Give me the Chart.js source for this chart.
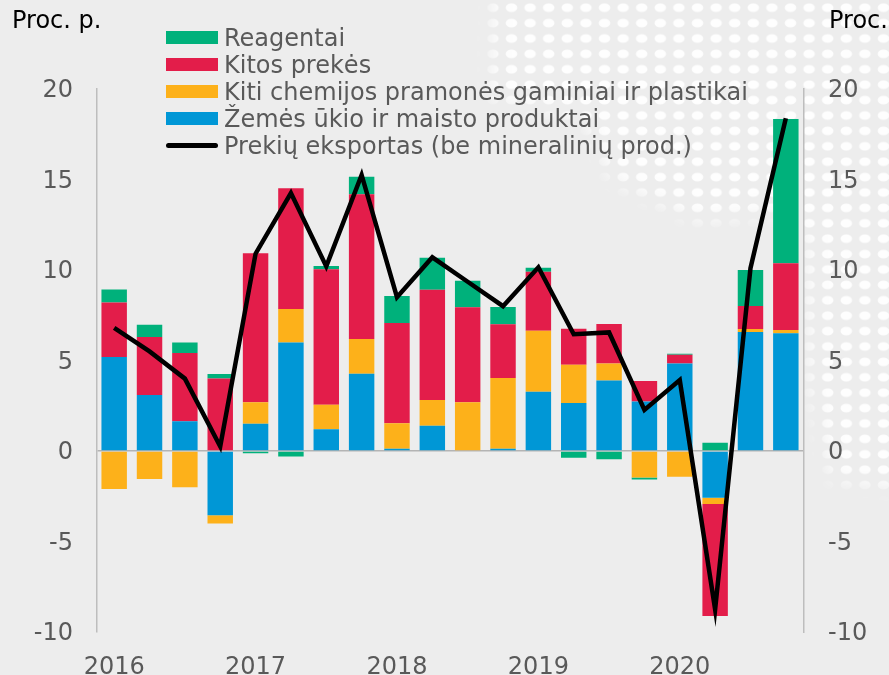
<!DOCTYPE html>
<html lang="lt">
<head>
<meta charset="utf-8">
<title>Prekių eksporto augimo struktūra</title>
<script src="https://cdn.jsdelivr.net/npm/chart.js@4.4.1/dist/chart.umd.min.js"></script>
<style>
    html, body { margin: 0; padding: 0; }
    body {
        width: 889px;
        height: 675px;
        overflow: hidden;
        background: #ededed;
        font-family: 'DejaVu Sans', Verdana, sans-serif;
    }
    .wrap { position: relative; width: 889px; height: 675px; }
    .dots { position: absolute; left: 0; top: 0; }
    canvas { position: absolute; left: 0; top: 0; }
    .axis-title { position: absolute; top: 6px; font-size: 24px; color: #000; white-space: nowrap; }
    .legend { position: absolute; left: 166px; top: 24px; }
    .legend-item {
        display: flex;
        align-items: center;
        height: 27px;
        font-size: 24px;
        color: #595959;
        white-space: nowrap;
    }
    .legend-swatch { width: 52px; height: 13px; margin-right: 6px; flex: none; }
    .legend-swatch.line { height: 5px; border-radius: 3px; }
</style>
</head>
<body>
<div class="wrap">
    <!-- dekoratyvus taškų fonas -->
    <svg class="dots" width="889" height="675">
        <defs>
            <pattern id="dotPattern" width="18.6" height="15.4" patternUnits="userSpaceOnUse">
                <ellipse cx="9.3" cy="7.7" rx="5.8" ry="4.3" fill="#ffffff" fill-opacity="0.9"></ellipse>
            </pattern>
            <filter id="soft" x="-20%" y="-20%" width="140%" height="140%">
                <feGaussianBlur stdDeviation="9"></feGaussianBlur>
            </filter>
            <mask id="dotMask" maskUnits="userSpaceOnUse" x="0" y="0" width="889" height="675">
                <polygon points="492,-20 909,-20 909,490 832,480 810,380 806,235 780,212 700,222 612,180 585,118 490,100"
                         fill="#ffffff" filter="url(#soft)"></polygon>
            </mask>
        </defs>
        <rect x="0" y="0" width="889" height="675" fill="url(#dotPattern)" mask="url(#dotMask)"></rect>
    </svg>
    <canvas id="chart" width="889" height="675"></canvas>
    <div class="axis-title" style="left:12px">Proc. p.</div>
    <div class="axis-title" style="left:829px">Proc.</div>
    <div class="legend" id="legend"></div>
</div>
<script>
// ketvirčiai
const quarters = [
    '2016 I', '2016 II', '2016 III', '2016 IV',
    '2017 I', '2017 II', '2017 III', '2017 IV',
    '2018 I', '2018 II', '2018 III', '2018 IV',
    '2019 I', '2019 II', '2019 III', '2019 IV',
    '2020 I', '2020 II', '2020 III', '2020 IV'
];

// indėliai, proc. p.
const agriFood     = [5.2, 3.1, 1.65, -3.55, 1.5, 6.0, 1.2, 4.27, 0.13, 1.4, 0.0, 0.13, 3.28, 2.65, 3.89, 2.74, 4.84, -2.58, 6.58, 6.5];
const chemPlastics = [-2.1, -1.55, -2.0, -0.45, 1.2, 1.85, 1.35, 1.92, 1.4, 1.42, 2.69, 3.9, 3.37, 2.12, 0.94, -1.46, -1.42, -0.35, 0.16, 0.19];
const otherGoods   = [3.0, 3.2, 3.77, 4.0, 8.23, 6.67, 7.49, 7.99, 5.54, 6.09, 5.25, 2.97, 3.26, 1.99, 2.19, 1.13, 0.48, -6.19, 1.27, 3.68];
const reagents     = [0.72, 0.68, 0.57, 0.25, -0.13, -0.31, 0.18, 0.97, 1.49, 1.77, 1.47, 0.96, 0.22, -0.37, -0.46, -0.12, 0.05, 0.46, 1.99, 7.97];

// metinis pokytis, proc.
const exportsExMineral = [6.8, 5.5, 4.0, 0.25, 10.9, 14.25, 10.2, 15.25, 8.5, 10.7, 9.35, 8.0, 10.15, 6.45, 6.55, 2.27, 3.92, -8.75, 10.1, 18.38];

const yTicks = [-10, -5, 0, 5, 10, 15, 20];

const seriesNames = {
    agriFood: 'Žemės ūkio ir maisto produktai',
    chemPlastics: 'Kiti chemijos pramonės gaminiai ir plastikai',
    otherGoods: 'Kitos prekės',
    reagents: 'Reagentai',
    exports: 'Prekių eksportas (be mineralinių prod.)'
};

const colors = {
    agriFood: '#0097d6',
    chemPlastics: '#fdb11a',
    otherGoods: '#e31d4a',
    reagents: '#00b17b',
    exports: '#000000'
};

Chart.defaults.font.family = "'DejaVu Sans', Verdana, sans-serif";
Chart.defaults.font.size = 24;
Chart.defaults.color = '#595959';

/**
 * Build one stacked bar dataset
 * @param {string} key
 * @param {Array} values
 */
function barSeries(key, values) {
    return {
        type: 'bar',
        label: seriesNames[key],
        data: values,
        backgroundColor: colors[key],
        borderWidth: 0,
        stack: 'contrib',
        order: 1
    };
}

/**
 * Render the legend as html over the chart area
 * @param {Chart} chart
 */
function renderLegend(chart) {
    const container = document.getElementById('legend');
    container.innerHTML = '';
    const legendOrder = [seriesNames.reagents, seriesNames.otherGoods, seriesNames.chemPlastics, seriesNames.agriFood, seriesNames.exports];

    legendOrder.forEach(label => {
        const dataset = chart.data.datasets.find(ds => ds.label === label);
        const item = document.createElement('div');
        item.className = 'legend-item';
        const swatch = document.createElement('span');
        swatch.className = dataset.type === 'line' ? 'legend-swatch line' : 'legend-swatch';
        swatch.style.backgroundColor = dataset.type === 'line' ? dataset.borderColor : dataset.backgroundColor;
        const text = document.createElement('span');
        text.textContent = label;
        item.appendChild(swatch);
        item.appendChild(text);
        container.appendChild(item);
    });
}

const setTicks = scale => {
    scale.ticks = yTicks.map(value => ({ value }));
};

const chart = new Chart(document.getElementById('chart'), {
    data: {
        labels: quarters,
        datasets: [
            {
                type: 'line',
                label: seriesNames.exports,
                data: exportsExMineral,
                borderColor: colors.exports,
                borderWidth: 4.5,
                borderJoinStyle: 'miter',
                pointRadius: 0,
                tension: 0,
                stack: 'line',
                order: 0
            },
            barSeries('agriFood', agriFood),
            barSeries('chemPlastics', chemPlastics),
            barSeries('otherGoods', otherGoods),
            barSeries('reagents', reagents)
        ]
    },
    options: {
        responsive: false,
        animation: false,
        layout: { padding: { top: 89, bottom: 0, left: 0, right: 0 } },
        plugins: {
            legend: { display: false },
            tooltip: { enabled: false }
        },
        scales: {
            x: {
                stacked: true,
                grid: { display: false },
                border: { display: false },
                ticks: {
                    autoSkip: false,
                    maxRotation: 0,
                    padding: 13,
                    callback: function (value) {
                        const label = this.getLabelForValue(value);
                        return label.endsWith(' I') ? label.split(' ')[0] : '';
                    }
                },
                afterFit: scale => { scale.height = 43; }
            },
            y: {
                stacked: true,
                position: 'left',
                min: -10,
                max: 20,
                afterBuildTicks: setTicks,
                grid: {
                    drawTicks: false,
                    color: ctx => ctx.tick && ctx.tick.value === 0 ? '#b4b4b4' : 'rgba(0,0,0,0)',
                    lineWidth: 1.5
                },
                border: { display: true, color: '#bdbdbd', width: 1.5 },
                ticks: { padding: 23.5, labelOffset: 2 },
                afterFit: scale => { scale.width = 96.5; }
            },
            y2: {
                position: 'right',
                min: -10,
                max: 20,
                afterBuildTicks: setTicks,
                grid: { display: false, drawTicks: false },
                border: { display: true, color: '#bdbdbd', width: 1.5 },
                ticks: { padding: 24.5, labelOffset: 2 },
                afterFit: scale => { scale.width = 85.5; }
            }
        }
    }
});

renderLegend(chart);
</script>
</body>
</html>
